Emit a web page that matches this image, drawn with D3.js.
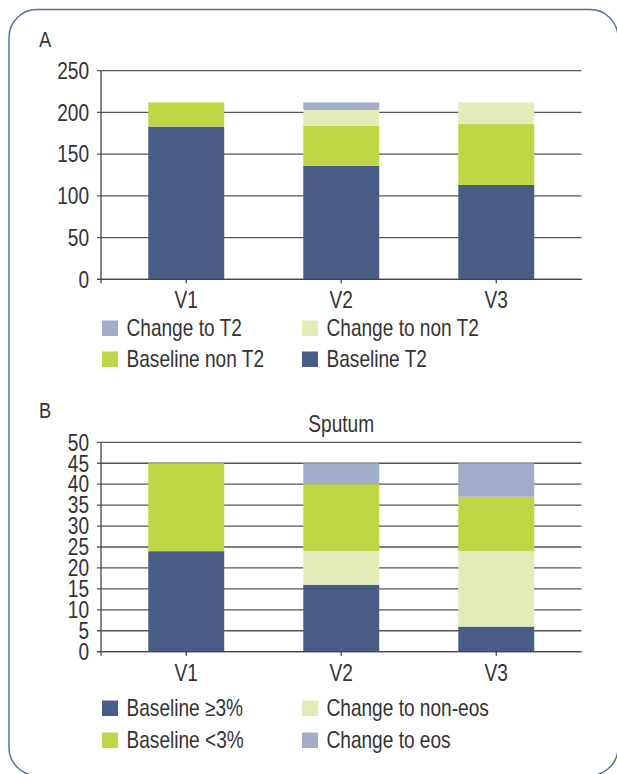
<!DOCTYPE html>
<html>
<head>
<meta charset="utf-8">
<script src="https://cdn.jsdelivr.net/npm/d3@7"></script>
<style>
  html, body { margin: 0; padding: 0; background: #fff; }
  svg { display: block; }
  text { font-family: "Liberation Sans", Arial, sans-serif; fill: #333; }
</style>
</head>
<body>
<svg id="fig" width="617" height="774"></svg>
<script>
// Panel A: phenotype (T2 / non T2) counts per visit
const visits = ["V1", "V2", "V3"];
const keysA = ["Baseline T2", "Baseline non T2", "Change to non T2", "Change to T2"];
const baselineT2    = [183, 136, 113];
const baselineNonT2 = [29, 48, 73];
const changeToNonT2 = [0, 19, 26];
const changeToT2    = [0, 9, 0];
const ticksA = [0, 50, 100, 150, 200, 250];

// Panel B: sputum eosinophil counts per visit
const keysB = ["Baseline ≥3%", "Change to non-eos", "Baseline <3%", "Change to eos"];
const eosHigh      = [24, 16, 6];
const changeNonEos = [0, 8, 18];
const eosLow       = [21, 16, 13];
const changeEos    = [0, 5, 8];
const ticksB = [0, 5, 10, 15, 20, 25, 30, 35, 40, 45, 50];

const colors = {
  "Baseline T2": "#485c86", "Baseline non T2": "#bed646",
  "Change to non T2": "#e2ecb9", "Change to T2": "#a2adc9",
  "Baseline ≥3%": "#485c86", "Baseline <3%": "#bed646",
  "Change to non-eos": "#e2ecb9", "Change to eos": "#a2adc9"
};

const rowsA = visits.map((v, i) => ({
  visit: v,
  "Baseline T2": baselineT2[i], "Baseline non T2": baselineNonT2[i],
  "Change to non T2": changeToNonT2[i], "Change to T2": changeToT2[i]
}));
const rowsB = visits.map((v, i) => ({
  visit: v,
  "Baseline ≥3%": eosHigh[i], "Change to non-eos": changeNonEos[i],
  "Baseline <3%": eosLow[i], "Change to eos": changeEos[i]
}));

const svg = d3.select("#fig");

// rounded frame around both panels
svg.append("rect")
  .attr("x", 9).attr("y", 9.5).attr("width", 609).attr("height", 766)
  .attr("rx", 28).attr("ry", 28)
  .attr("fill", "none").attr("stroke", "#4f6b9c").attr("stroke-width", 1.4);

const FS = 23;
const SX = 0.83;   // horizontal squeeze for a condensed look
const left = 101, right = 581.5;

// text placed at (x, y) and squeezed horizontally
function label(sel, x, y, str, anchor, size, dy) {
  return sel.append("text")
    .attr("transform", `translate(${x},${y}) scale(${SX},1)`)
    .attr("text-anchor", anchor || "start")
    .attr("dy", dy || null)
    .attr("font-size", size || FS)
    .text(str);
}

function panel(rows, keys, ticks, yMax, yBottom, yTop) {
  const x = d3.scaleBand().domain(visits).range([left, right])
    .paddingInner(0.51).paddingOuter(0.305);
  const y = d3.scaleLinear().domain([0, yMax]).range([yBottom, yTop]);
  const g = svg.append("g");

  // horizontal gridlines
  g.selectAll("line.grid").data(ticks).join("line")
    .attr("x1", left - 4).attr("x2", right)
    .attr("y1", d => y(d)).attr("y2", d => y(d))
    .attr("stroke", "#555").attr("stroke-width", 1.3);

  // tick labels
  ticks.forEach(t => label(g, left - 12, y(t), t, "end", FS, "0.36em"));

  // stacked bars
  const series = d3.stack().keys(keys)(rows);
  g.selectAll("g.s").data(series).join("g")
    .attr("fill", d => colors[d.key])
    .selectAll("rect").data(d => d).join("rect")
    .attr("x", d => x(d.data.visit))
    .attr("width", x.bandwidth())
    .attr("y", d => y(d[1]))
    .attr("height", d => y(d[0]) - y(d[1]));

  // axis lines and ticks
  g.append("line").attr("x1", left).attr("x2", left)
    .attr("y1", y(yMax)).attr("y2", y(0) + 4)
    .attr("stroke", "#444").attr("stroke-width", 1.3);
  g.append("line").attr("x1", left - 4).attr("x2", right)
    .attr("y1", y(0)).attr("y2", y(0))
    .attr("stroke", "#444").attr("stroke-width", 1.3);
  g.selectAll("line.xt").data(visits).join("line")
    .attr("x1", d => x(d) + x.bandwidth() / 2).attr("x2", d => x(d) + x.bandwidth() / 2)
    .attr("y1", y(0)).attr("y2", y(0) + 4)
    .attr("stroke", "#444").attr("stroke-width", 1.3);

  // category labels
  visits.forEach(v => label(g, x(v) + x.bandwidth() / 2, y(0) + 29, v, "middle"));
  return { x, y, g };
}

function legend(items, y1, y2) {
  const cols = [102, 302];
  const rowsY = [y1, y2];
  items.forEach((k, i) => {
    const cx = cols[i % 2], by = rowsY[Math.floor(i / 2)];
    svg.append("rect").attr("x", cx).attr("y", by - 15.5)
      .attr("width", 16).attr("height", 15.5).attr("fill", colors[k]);
    label(svg, cx + 24.5, by, k);
  });
}

// Panel A
label(svg, 39, 46.7, "A", "start", 22);
panel(rowsA, keysA, ticksA, 250, 279.3, 70.7);
legend(["Change to T2", "Change to non T2", "Baseline non T2", "Baseline T2"], 336, 367);

// Panel B
label(svg, 39, 418.3, "B", "start", 22);
panel(rowsB, keysB, ticksB, 50, 651.7, 442.3);
label(svg, (left + right) / 2, 431.5, "Sputum", "middle");
legend(["Baseline ≥3%", "Change to non-eos", "Baseline <3%", "Change to eos"], 716, 748);
</script>
</body>
</html>
